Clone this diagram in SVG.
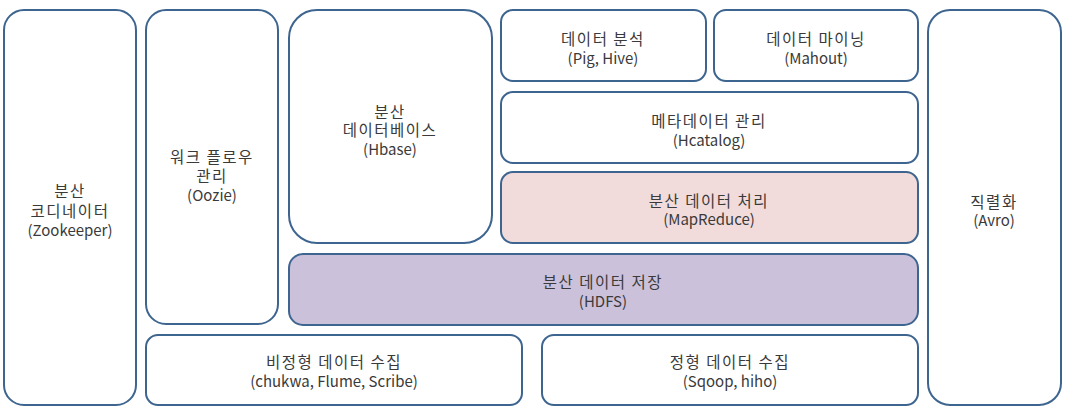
<svg xmlns="http://www.w3.org/2000/svg" width="1067" height="415" viewBox="0 0 1067 415">
<style>
.b{fill:#ffffff;stroke:#3d6590;stroke-width:2}
.mr{fill:#f2dcdb}
.hd{fill:#ccc1da}
text{font-family:"Noto Sans CJK KR","Noto Sans",sans-serif;font-size:15px;fill:#3a3a3a;text-anchor:middle;dominant-baseline:central}
.k{font-size:15.5px;letter-spacing:1.5px}
</style>
<rect width="1067" height="415" fill="#ffffff"/>
<g id="zookeeper"><rect class="b" x="4" y="10" width="132" height="395" rx="20"/>
<text class="k" x="70" y="190">분산</text><text class="k" x="70" y="210">코디네이터</text><text x="70" y="229">(Zookeeper)</text></g>
<g id="oozie"><rect class="b" x="146" y="10" width="132" height="314" rx="20"/>
<text class="k" x="212" y="156">워크 플로우</text><text class="k" x="212" y="175">관리</text><text x="212" y="194">(Oozie)</text></g>
<g id="hbase"><rect class="b" x="289" y="10" width="203" height="233" rx="28"/>
<text class="k" x="390" y="111">분산</text><text class="k" x="390" y="129">데이터베이스</text><text x="390" y="148">(Hbase)</text></g>
<g id="pig"><rect class="b" x="501" y="10" width="205" height="71" rx="12"/>
<text class="k" x="603" y="38">데이터 분석</text><text x="603" y="57">(Pig, Hive)</text></g>
<g id="mahout"><rect class="b" x="714" y="10" width="204" height="71" rx="12"/>
<text class="k" x="816" y="38">데이터 마이닝</text><text x="816" y="57">(Mahout)</text></g>
<g id="hcatalog"><rect class="b" x="501" y="92" width="417" height="71" rx="12"/>
<text class="k" x="709" y="120">메타데이터 관리</text><text x="709" y="139">(Hcatalog)</text></g>
<g id="mapreduce"><rect class="b mr" x="501" y="172" width="417" height="71" rx="12"/>
<text class="k" x="709" y="200">분산 데이터 처리</text><text x="709" y="218">(MapReduce)</text></g>
<g id="hdfs"><rect class="b hd" x="289" y="254" width="629" height="71" rx="14"/>
<text class="k" x="603" y="281">분산 데이터 저장</text><text x="603" y="300">(HDFS)</text></g>
<g id="unstructured"><rect class="b" x="146" y="335" width="376" height="70" rx="12"/>
<text class="k" x="334" y="361">비정형 데이터 수집</text><text x="334" y="380">(chukwa, Flume, Scribe)</text></g>
<g id="structured"><rect class="b" x="542" y="335" width="376" height="70" rx="12"/>
<text class="k" x="730" y="361">정형 데이터 수집</text><text x="730" y="380">(Sqoop, hiho)</text></g>
<g id="avro"><rect class="b" x="928" y="10" width="133" height="395" rx="22"/>
<text class="k" x="994" y="201">직렬화</text><text x="994" y="219">(Avro)</text></g>
<g id="connectors"></g>
</svg>
